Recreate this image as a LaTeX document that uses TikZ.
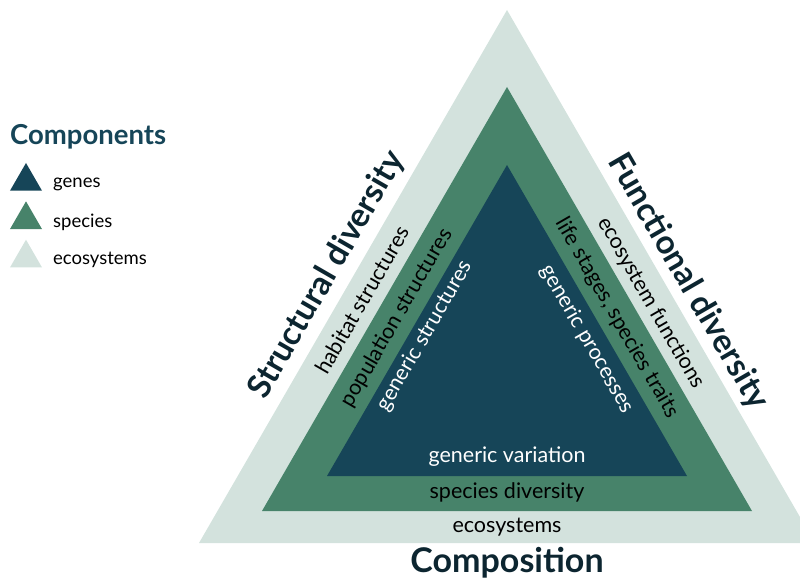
\documentclass[tikz,border=0pt]{standalone}
\usepackage{fontspec}
\setmainfont{Lato}
\usetikzlibrary{positioning,shapes.geometric}
\definecolor{ecocol}{HTML}{D3E2DD}
\definecolor{specol}{HTML}{47836A}
\definecolor{genecol}{HTML}{164558}
\definecolor{inkcol}{HTML}{0C2530}
\tikzset{
  band/.style={font=\fontsize{21.5}{23}\selectfont, inner sep=0pt},
  side/.style={font=\bfseries\fontsize{33}{35}\selectfont, text=inkcol, inner sep=0pt},
  keytri/.style={regular polygon, regular polygon sides=3, fill=#1, minimum size=37pt, inner sep=0pt},
  keylab/.style={font=\fontsize{18.5}{20}\selectfont, anchor=west, inner sep=0pt}
}
\begin{document}
\begin{tikzpicture}[x=1pt,y=-1pt]
	\clip (0,0) rectangle (800,580);
	% triangles
	\coordinate (ot) at (507,10);  \coordinate (ol) at (199,543); \coordinate (or) at (815,543);
	\coordinate (mt) at (507,87);  \coordinate (ml) at (262,511); \coordinate (mr) at (752,511);
	\coordinate (it) at (507,165); \coordinate (il) at (327,476); \coordinate (ir) at (687,476);
	\fill[ecocol] (ot) -- (ol) -- (or) -- cycle;
	\fill[specol] (mt) -- (ml) -- (mr) -- cycle;
	\fill[genecol] (it) -- (il) -- (ir) -- cycle;
	% bottom labels
	\node (gv) [band, text=white] at (507,457) {generic variation};
	\node (sd) [band] at (507,492) {species diversity};
	\node (ec) [band] at (507,527) {ecosystems};
	\node (comp) [side, font=\bfseries\fontsize{34}{36}\selectfont] at (507,563) {Composition};
	% left side
	\node (struct) [side, rotate=60] at (327,275) {Structural diversity};
	\node (hab) [band, rotate=60] at (362,300) {habitat structures};
	\node (pop) [band, rotate=60] at (397,318) {population structures};
	\node (gs) [band, rotate=60, text=white] at (425,336) {generic structures};
	% right side
	\node (func) [side, rotate=-60] at (688,282) {Functional diversity};
	\node (ef) [band, rotate=-60] at (651,303) {ecosystem functions};
	\node (life) [band, rotate=-60] at (617,318) {life stages, species traits};
	\node (gp) [band, rotate=-60, text=white] at (587,339) {generic processes};
	% legend
	\node (title) [font=\bfseries\fontsize{27.5}{30}\selectfont, text=genecol, anchor=west, inner sep=0pt] at (10,137) {Components};
	\node (kg) [keytri=genecol] at (26,181.5) {};
	\node (ks) [keytri=specol, below=10pt of kg] {};
	\node (ke) [keytri=ecocol, below=10pt of ks] {};
	\node (lg) [keylab] at (53,184) {genes};
	\node (ls) [keylab] at (53,222) {species};
	\node (le) [keylab] at (53,260) {ecosystems};
\end{tikzpicture}
\end{document}
